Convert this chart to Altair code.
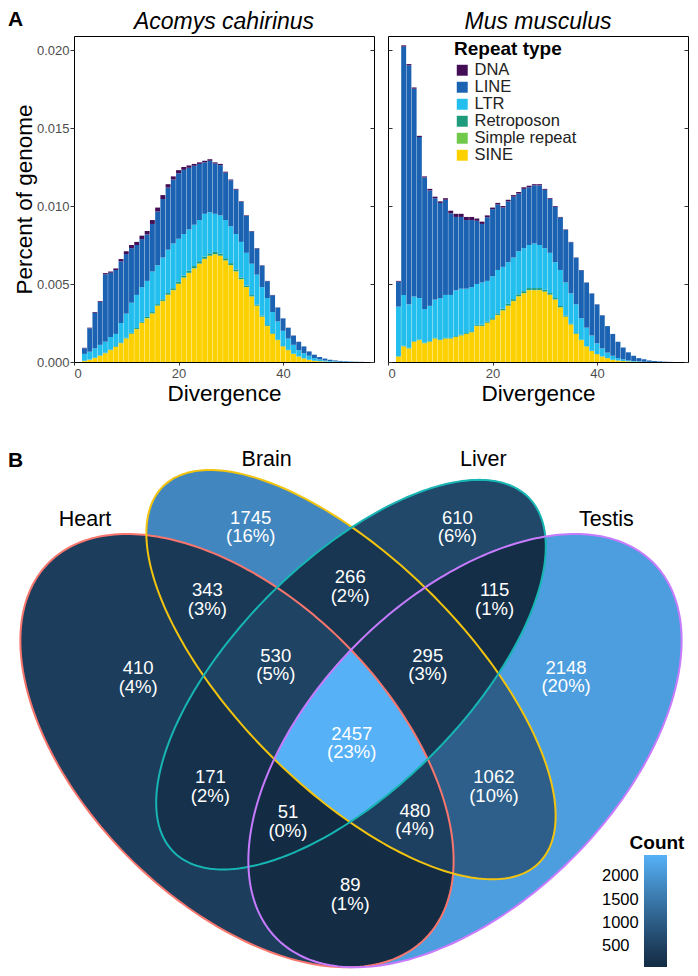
import numpy as np
import pandas as pd
import altair as alt

FONT = "Liberation Sans"

# ---------------- Panel A : repeat landscapes ----------------
divergence = list(range(2, 56))
repeat_types = ["DNA", "LINE", "LTR", "Retroposon", "Simple repeat", "SINE"]
repeat_colors = ["#440E57", "#1B63B2", "#22BEEE", "#1E9B7C", "#71C94B", "#FDD000"]

acomys_total = [0.00091, 0.0022, 0.0032, 0.0039, 0.0057, 0.0058, 0.0060, 0.0066, 0.0071, 0.0075,
                0.0077, 0.0081, 0.0084, 0.0091, 0.0099, 0.0107, 0.0114, 0.0119, 0.0123, 0.0125,
                0.0126, 0.0127, 0.0128, 0.0129, 0.0130, 0.0128, 0.0127, 0.0122, 0.0117, 0.0111,
                0.0103, 0.0094, 0.0084, 0.0073, 0.0062, 0.0052, 0.0043, 0.0035, 0.0028, 0.0022,
                0.0017, 0.0013, 0.0010, 0.00068, 0.00047, 0.00032, 0.00022, 0.00015, 0.0001, 0.00007,
                0.00005, 0.00003, 0.00002, 0.00001]
acomys_ltr_top = [0.00052, 0.00066, 0.00087, 0.0011, 0.0013, 0.0016, 0.0018, 0.0025, 0.0031, 0.0038,
                  0.0043, 0.0048, 0.0052, 0.0058, 0.0062, 0.0067, 0.0072, 0.0076, 0.0079, 0.0082,
                  0.0085, 0.0088, 0.0091, 0.0095, 0.0096, 0.0095, 0.0094, 0.0091, 0.0087, 0.0082,
                  0.0077, 0.0070, 0.0063, 0.0056, 0.0048, 0.0041, 0.0032, 0.0026, 0.0020, 0.0015,
                  0.0011, 0.00076, 0.00056, 0.0004, 0.00025, 0.00017, 0.0001, 0.00006, 0.00004, 0.00003,
                  0.00002, 0.00001, 0.00001, 0.0]
acomys_sine = [0.00006, 0.00014, 0.00025, 0.0004, 0.00056, 0.00076, 0.00097, 0.0012, 0.0015, 0.0018,
               0.0021, 0.0025, 0.0028, 0.0031, 0.0036, 0.0039, 0.0043, 0.0046, 0.0050, 0.0054,
               0.0057, 0.0060, 0.0063, 0.0066, 0.0068, 0.0069, 0.0068, 0.0065, 0.0062, 0.0058,
               0.0053, 0.0048, 0.0042, 0.0036, 0.0029, 0.0023, 0.0018, 0.0014, 0.0010, 0.00076,
               0.00052, 0.00035, 0.00023, 0.00014, 0.00008, 0.00005, 0.00003, 0.00002, 0.00001, 0.0,
               0.0, 0.0, 0.0, 0.0]
acomys_simple = [0.00001, 0.00001, 0.00001, 0.00001, 0.00001, 0.00001, 0.00001, 0.00002, 0.00002, 0.00002,
                 0.00002, 0.00002, 0.00002, 0.00002, 0.00002, 0.00002, 0.00002, 0.00002, 0.00002, 0.00002,
                 0.00002, 0.00002, 0.00002, 0.00002, 0.00002, 0.00002, 0.00002, 0.00002, 0.00002, 0.00002,
                 0.00002, 0.00001, 0.00001, 0.00001, 0.00001, 0.00001, 0.00001, 0.00001, 0.0, 0.0,
                 0.0, 0.0, 0.0, 0.0, 0.0, 0.0, 0.0, 0.0, 0.0, 0.0,
                 0.0, 0.0, 0.0, 0.0]
acomys_retro = [0.00001, 0.00001, 0.00002, 0.00002, 0.00003, 0.00003, 0.00004, 0.00004, 0.00005, 0.00005,
                0.00006, 0.00006, 0.00007, 0.00008, 0.00009, 0.0001, 0.0001, 0.00011, 0.00012, 0.00012,
                0.00013, 0.00013, 0.00014, 0.00014, 0.00014, 0.00014, 0.00013, 0.00013, 0.00012, 0.00011,
                0.0001, 0.00009, 0.00008, 0.00007, 0.00006, 0.00005, 0.00004, 0.00003, 0.00002, 0.00002,
                0.00001, 0.00001, 0.00001, 0.0, 0.0, 0.0, 0.0, 0.0, 0.0, 0.0,
                0.0, 0.0, 0.0, 0.0]
acomys_dna = [0.00003, 0.00004, 0.00005, 0.00005, 0.00008, 0.00008, 0.0001, 0.00015, 0.00018, 0.0002,
              0.0002, 0.00022, 0.00022, 0.00025, 0.00025, 0.00025, 0.00022, 0.0002, 0.0002, 0.00018,
              0.00015, 0.00012, 0.0001, 0.0001, 0.0001, 0.00008, 0.00008, 0.00006, 0.00005, 0.00005,
              0.00004, 0.00004, 0.00003, 0.00003, 0.00002, 0.00002, 0.00002, 0.00001, 0.00001, 0.00001,
              0.00001, 0.00001, 0.0, 0.0, 0.0, 0.0, 0.0, 0.0, 0.0, 0.0,
              0.0, 0.0, 0.0, 0.0]

mus_total = [0.0052, 0.0203, 0.0191, 0.0176, 0.0145, 0.0119, 0.0111, 0.0106, 0.0103, 0.0105,
             0.0097, 0.0095, 0.0095, 0.0093, 0.0093, 0.0092, 0.0090, 0.0094, 0.0099, 0.0102,
             0.0100, 0.0104, 0.0107, 0.0109, 0.0112, 0.0113, 0.0114, 0.0114, 0.0111, 0.0105,
             0.0100, 0.0093, 0.0085, 0.0077, 0.0067, 0.0059, 0.0051, 0.0044, 0.0037, 0.0030,
             0.0023, 0.0018, 0.0013, 0.00093, 0.00062, 0.0004, 0.00025, 0.00017, 0.0001, 0.00006,
             0.00004, 0.00002, 0.00001, 0.0]
mus_ltr_top = [0.00355, 0.0043, 0.0037, 0.0042, 0.0041, 0.0034, 0.0036, 0.0040, 0.0041, 0.0043,
               0.0043, 0.0046, 0.0047, 0.0047, 0.0048, 0.0050, 0.0051, 0.0052, 0.0055, 0.0059,
               0.0061, 0.0064, 0.0067, 0.0071, 0.0073, 0.0075, 0.0076, 0.0075, 0.0073, 0.0070,
               0.0064, 0.0059, 0.0051, 0.0044, 0.0037, 0.0028, 0.0022, 0.0017, 0.0012, 0.00087,
               0.0006, 0.0004, 0.00025, 0.00017, 0.0001, 0.00006, 0.00004, 0.00002, 0.00001, 0.0,
               0.0, 0.0, 0.0, 0.0]
mus_sine = [0.00035, 0.0010, 0.00087, 0.0013, 0.0014, 0.0012, 0.0013, 0.0015, 0.0014, 0.0015,
            0.0015, 0.0016, 0.0017, 0.0018, 0.0019, 0.0023, 0.0023, 0.0025, 0.0027, 0.0030,
            0.0033, 0.0036, 0.0039, 0.0042, 0.0044, 0.0046, 0.0046, 0.0046, 0.0045, 0.0043,
            0.0040, 0.0035, 0.0029, 0.0024, 0.0018, 0.0014, 0.0010, 0.0007, 0.0005, 0.00035,
            0.00025, 0.00014, 0.0001, 0.00006, 0.00004, 0.00002, 0.00001, 0.0, 0.0, 0.0,
            0.0, 0.0, 0.0, 0.0]
mus_simple = [0.00001, 0.00001, 0.00001, 0.00001, 0.00001, 0.00001, 0.00001, 0.00001, 0.00001, 0.00001,
              0.00001, 0.00001, 0.00001, 0.00001, 0.00001, 0.00002, 0.00002, 0.00002, 0.00002, 0.00002,
              0.00002, 0.00002, 0.00002, 0.00002, 0.00002, 0.00002, 0.00002, 0.00002, 0.00002, 0.00002,
              0.00001, 0.00001, 0.00001, 0.00001, 0.00001, 0.00001, 0.0, 0.0, 0.0, 0.0,
              0.0, 0.0, 0.0, 0.0, 0.0, 0.0, 0.0, 0.0, 0.0, 0.0,
              0.0, 0.0, 0.0, 0.0]
mus_retro = [0.00002, 0.00003, 0.00003, 0.00003, 0.00003, 0.00003, 0.00003, 0.00004, 0.00004, 0.00004,
             0.00004, 0.00005, 0.00005, 0.00005, 0.00006, 0.00006, 0.00007, 0.00008, 0.00009, 0.0001,
             0.0001, 0.00011, 0.00011, 0.00012, 0.00012, 0.00012, 0.00012, 0.00012, 0.00011, 0.0001,
             0.00009, 0.00008, 0.00007, 0.00005, 0.00004, 0.00003, 0.00002, 0.00002, 0.00001, 0.00001,
             0.0, 0.0, 0.0, 0.0, 0.0, 0.0, 0.0, 0.0, 0.0, 0.0,
             0.0, 0.0, 0.0, 0.0]
mus_dna = [0.00005, 0.00008, 0.00008, 0.00008, 0.00008, 0.00008, 0.0001, 0.0001, 0.0001, 0.0001,
           0.00017, 0.0002, 0.0002, 0.0002, 0.0002, 0.00015, 0.00015, 0.00012, 0.0001, 0.0001,
           0.0001, 0.0001, 0.0001, 0.0001, 0.0001, 0.0001, 0.00008, 0.00008, 0.00006, 0.00005,
           0.00005, 0.00004, 0.00003, 0.00003, 0.00002, 0.00002, 0.00001, 0.00001, 0.00001, 0.00001,
           0.0, 0.0, 0.0, 0.0, 0.0, 0.0, 0.0, 0.0, 0.0, 0.0,
           0.0, 0.0, 0.0, 0.0]


def build_stack(total, ltr_top, sine, simple, retro, dna):
    rows = []
    for i, d in enumerate(divergence):
        b1 = sine[i]
        b2 = b1 + simple[i]
        b3 = b2 + retro[i]
        b4 = max(ltr_top[i], b3)
        b6 = max(total[i], b4 + dna[i])
        b5 = b6 - dna[i]
        segs = [("SINE", 0.0, b1), ("Simple repeat", b1, b2), ("Retroposon", b2, b3),
                ("LTR", b3, b4), ("LINE", b4, b5), ("DNA", b5, b6)]
        for t, lo, hi in segs:
            if hi > lo:
                rows.append({"d": d, "lo": d - 0.47, "hi": d + 0.47, "type": t, "y0": lo, "y1": hi})
    return pd.DataFrame(rows)


acomys_df = build_stack(acomys_total, acomys_ltr_top, acomys_sine, acomys_simple, acomys_retro, acomys_dna)
mus_df = build_stack(mus_total, mus_ltr_top, mus_sine, mus_simple, mus_retro, mus_dna)

y_ticks = [0, 0.005, 0.01, 0.015, 0.02]
x_ticks = [0, 20, 40]
PW, PH = 300, 326


def hist_panel(df, title, first):
    xscale = alt.Scale(domain=[0, 57.4], nice=False, zero=False)
    yscale = alt.Scale(domain=[0, 0.0209], nice=False, zero=True)
    if first:
        yaxis = alt.Axis(values=y_ticks, format=".3f", title="Percent of genome", tickSize=4,
                         labelPadding=1, titlePadding=0, domain=False)
        legend = None
    else:
        yaxis = alt.Axis(values=y_ticks, labels=False, title=None, tickSize=4, offset=-4, domain=False)
        legend = alt.Legend(title="Repeat type", orient="none", legendX=66, legendY=4,
                            symbolType="square", symbolSize=120, symbolStrokeWidth=0,
                            labelFontSize=16.5, titleFontSize=19, titleFontWeight="bold",
                            rowPadding=0, labelOffset=4, titlePadding=3,
                            labelColor="#222222", titleColor="black")
    bars = alt.Chart(df).mark_rect().encode(
        x=alt.X("lo:Q", scale=xscale,
                axis=alt.Axis(values=x_ticks, title="Divergence", tickSize=3, domain=False,
                              labelPadding=2, titlePadding=2)),
        x2="hi:Q",
        y=alt.Y("y0:Q", scale=yscale, axis=yaxis),
        y2="y1:Q",
        color=alt.Color("type:N", scale=alt.Scale(domain=repeat_types, range=repeat_colors),
                        legend=legend),
    )
    right_ticks = alt.Chart(df).mark_point(opacity=0, size=1).encode(
        y=alt.Y("y1:Q", scale=yscale,
                axis=alt.Axis(orient="right", values=y_ticks, labels=False, title=None,
                              tickSize=4, offset=-4, domain=False)),
    )
    return alt.layer(bars, right_ticks).resolve_axis(y="independent").properties(
        width=PW, height=PH,
        title=alt.TitleParams(title, fontStyle="italic", fontSize=23, font=FONT,
                              fontWeight="normal", offset=2, color="black"),
    )


left = hist_panel(acomys_df, "Acomys cahirinus", True)
right = hist_panel(mus_df, "Mus musculus", False)
top = alt.hconcat(left, right, spacing=12).resolve_scale(color="independent").resolve_legend(color="independent")

# ---------------- Panel B : Venn diagram ----------------
set_names = ["Heart", "Brain", "Liver", "Testis"]
set_colors = ["#F8766D", "#F2C40F", "#17B5B3", "#C77CFF"]
ell_cx = [0.35, 0.50, 0.50, 0.65]
ell_cy = [0.47, 0.57, 0.57, 0.47]
ell_a = [0.35, 0.35, 0.33, 0.35]
ell_b = [0.20, 0.15, 0.15, 0.20]
ell_rot = [135, 135, 45, 45]
set_label_x = [0.150, 0.389, 0.674, 0.836]
set_label_y = [0.773, 0.852, 0.852, 0.773]

region_members = ["Heart", "Brain", "Liver", "Testis",
                  "Heart,Brain", "Heart,Liver", "Heart,Testis", "Brain,Liver", "Brain,Testis", "Liver,Testis",
                  "Heart,Brain,Liver", "Heart,Brain,Testis", "Heart,Liver,Testis", "Brain,Liver,Testis",
                  "Heart,Brain,Liver,Testis"]
region_counts = [410, 1745, 610, 2148, 343, 171, 89, 266, 1062, 115, 530, 480, 51, 295, 2457]
region_label_x = [0.220, 0.368, 0.640, 0.783, 0.311, 0.315, 0.499, 0.499, 0.688, 0.689,
                  0.401, 0.584, 0.417, 0.601, 0.501]
region_label_y = [0.569, 0.767, 0.767, 0.570, 0.672, 0.426, 0.284, 0.689, 0.426, 0.672,
                  0.586, 0.382, 0.380, 0.586, 0.483]


def ellipse_pts(i, n=280):
    t = np.linspace(0, 2 * np.pi, n, endpoint=False)
    phi = np.radians(ell_rot[i])
    x = ell_cx[i] + ell_a[i] * np.cos(t) * np.cos(phi) - ell_b[i] * np.sin(t) * np.sin(phi)
    y = ell_cy[i] + ell_a[i] * np.cos(t) * np.sin(phi) + ell_b[i] * np.sin(t) * np.cos(phi)
    return [(float(a), float(b)) for a, b in zip(x, y)]


def clip_poly(subject, clipper):
    out = subject
    for k in range(len(clipper)):
        ax, ay = clipper[k - 1]
        bx, by = clipper[k]
        inp, out = out, []
        if not inp:
            break

        def side(p):
            return (bx - ax) * (p[1] - ay) - (by - ay) * (p[0] - ax)

        for j in range(len(inp)):
            p, q = inp[j - 1], inp[j]
            sp, sq = side(p), side(q)
            if sq >= 0:
                if sp < 0:
                    s = sp / (sp - sq)
                    out.append((p[0] + s * (q[0] - p[0]), p[1] + s * (q[1] - p[1])))
                out.append(q)
            elif sp >= 0:
                s = sp / (sp - sq)
                out.append((p[0] + s * (q[0] - p[0]), p[1] + s * (q[1] - p[1])))
    return out


ellipses = [ellipse_pts(i) for i in range(4)]

# painter's order: singles, pairs, triples, all four (region list is already in that order)
region_features = []
for members, count in zip(region_members, region_counts):
    idx = [set_names.index(m) for m in members.split(",")]
    poly = ellipses[idx[0]]
    for j in idx[1:]:
        poly = clip_poly(poly, ellipses[j])
    ring = [[round(x, 5), round(y, 5)] for x, y in poly]
    ring.append(ring[0])
    region_features.append({"type": "Feature", "geometry": {"type": "Polygon", "coordinates": [ring]},
                            "properties": {"count": count, "members": members}})

outline_features = []
for i, name in enumerate(set_names):
    ring = [[round(x, 5), round(y, 5)] for x, y in ellipses[i]]
    ring.append(ring[0])
    outline_features.append({"type": "Feature", "geometry": {"type": "Polygon", "coordinates": [ring]},
                             "properties": {"set": name}})

total_count = sum(region_counts)
count_labels = pd.DataFrame({
    "lon": region_label_x, "lat": region_label_y,
    "label": [f"{c}\n({round(100 * c / total_count)}%)" for c in region_counts],
})
set_labels = pd.DataFrame({"lon": set_label_x, "lat": set_label_y, "label": set_names})

# Venn panel origin (the concat layout aligns it with the left plot area)
ORIGIN_X, VENN_TOP = 74, 448
K = 760
proj_translate = [351 - 0.5 * K - ORIGIN_X, 468 + 0.8393 * K - VENN_TOP]

regions = alt.Chart(alt.Data(values=region_features)).mark_geoshape(strokeWidth=0, clip=False).encode(
    color=alt.Color("properties.count:Q", title=None,
                    scale=alt.Scale(range=["#132B43", "#56B1F7"], interpolate="lab", zero=False, nice=False),
                    legend=alt.Legend(orient="none", legendX=570, legendY=405,
                                      values=[500, 1000, 1500, 2000], gradientLength=112,
                                      gradientThickness=23, labelOffset={"expr": "-65"},
                                      labelExpr="datum.value < 1000 ? '\u2007' + datum.value : '' + datum.value",
                                      labelFontSize=16.5, labelColor="black", direction="vertical",
                                      gradientStrokeWidth=0))
)
outlines = alt.Chart(alt.Data(values=outline_features)).mark_geoshape(
    filled=False, strokeWidth=2, clip=False
).encode(
    stroke=alt.Stroke("properties.set:N", scale=alt.Scale(domain=set_names, range=set_colors), legend=None)
)
count_text = alt.Chart(count_labels).mark_text(
    font=FONT, fontSize=18.5, lineHeight=18.5, color="white", baseline="middle", lineBreak="\n",
    dy=-7, clip=False
).encode(longitude="lon:Q", latitude="lat:Q", text="label:N")
set_text = alt.Chart(set_labels).mark_text(
    font=FONT, fontSize=21.5, color="black", baseline="middle", clip=False
).encode(longitude="lon:Q", latitude="lat:Q", text="label:N")
letter_b = alt.Chart(alt.Data(values=[{"t": "B"}])).mark_text(
    font=FONT, fontSize=21, fontWeight="bold", align="left", baseline="top", color="black", clip=False
).encode(text="t:N", x=alt.value(8 - ORIGIN_X), y=alt.value(0))
count_title = alt.Chart(alt.Data(values=[{"t": "Count"}])).mark_text(
    font=FONT, fontSize=19, fontWeight="bold", align="center", baseline="middle", color="black", clip=False
).encode(text="t:N", x=alt.value(657 - ORIGIN_X), y=alt.value(841 - VENN_TOP))

venn = alt.layer(regions, outlines, count_text, set_text, letter_b, count_title).project(
    type="identity", reflectY=True, scale=K, translate=proj_translate
).properties(width=600, height=500, view=alt.ViewBackground(strokeOpacity=0))

chart = alt.vconcat(top, venn, spacing=44).resolve_scale(color="independent", stroke="independent").properties(
    padding=0,
    title=alt.TitleParams("A", anchor="start", frame="bounds", fontSize=21, fontWeight="bold",
                          font=FONT, color="black", offset=-19),
).configure_view(stroke="black", strokeWidth=1).configure_axis(
    labelFont=FONT, titleFont=FONT, labelFontSize=13, titleFontSize=22.5, labelColor="#4D4D4D",
    tickColor="#333333", titleColor="black", titleFontWeight="normal", grid=False
).configure_legend(labelFont=FONT, titleFont=FONT).configure_title(font=FONT)

chart.save("out.html", embed_options={"renderer": "svg", "actions": False})
